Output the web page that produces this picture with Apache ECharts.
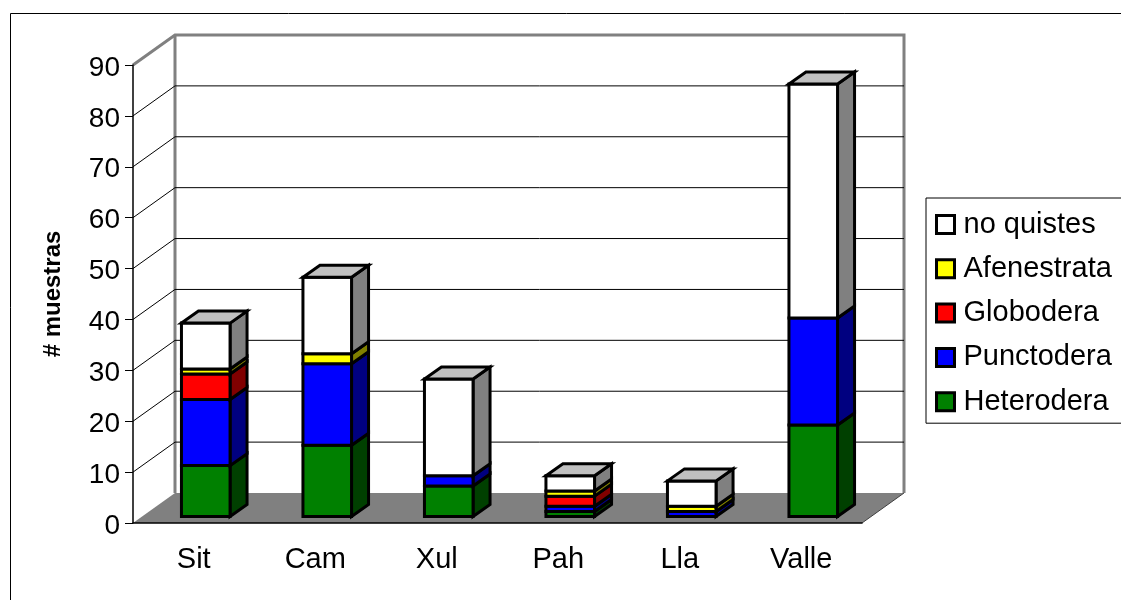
<!DOCTYPE html>
<html>
<head>
<meta charset="utf-8">
<style>
    html, body { margin: 0; padding: 0; background: #fff; }
    #chart { width: 1121px; height: 600px; }
</style>
<script src="https://cdn.jsdelivr.net/npm/echarts@6/dist/echarts.min.js"></script>
</head>
<body>
<div id="chart"></div>
<script>
var categories = ["Sit", "Cam", "Xul", "Pah", "Lla", "Valle"];
var heterodera = [10, 14, 6, 1, 0, 18];
var punctodera = [13, 16, 2, 1, 1, 21];
var globodera = [5, 0, 0, 2, 0, 0];
var afenestrata = [1, 2, 0, 1, 1, 0];
var noQuistes = [9, 15, 19, 3, 5, 46];
var gridValues = [10, 20, 30, 40, 50, 60, 70, 80];

var FONT = '"Liberation Sans", Arial, sans-serif';
// depth of the fake 3d box, and of a bar inside it
var WALL_DX = 42, WALL_DY = -30;
var BAR_DX = 17, BAR_DY = -12;
var BAR_SHIFT_X = 12, BAR_SHIFT_Y = -6.5;

var chart = echarts.init(document.getElementById("chart"));

function leftEdge(api, value) {
    var p = api.coord([0, value]);
    return [p[0] - api.size([1, 0])[0] / 2, p[1]];
}

function rightEdge(api, value) {
    var p = api.coord([categories.length - 1, value]);
    return [p[0] + api.size([1, 0])[0] / 2, p[1]];
}

function wallItem(params, api) {
    var a = leftEdge(api, 0), b = rightEdge(api, 0);
    var c = leftEdge(api, 90), d = rightEdge(api, 90);
    var gray = { stroke: "#808080", lineWidth: 3, fill: null };
    return {
        type: "group",
        children: [{
            type: "polygon",
            shape: { points: [a, [a[0] + WALL_DX, a[1] + WALL_DY], [b[0] + WALL_DX, b[1] + WALL_DY], b] },
            style: { fill: "#808080" }
        }, {
            type: "polyline",
            shape: { points: [
                c,
                [c[0] + WALL_DX, c[1] + WALL_DY],
                [d[0] + WALL_DX, d[1] + WALL_DY],
                [b[0] + WALL_DX, b[1] + WALL_DY]
            ] },
            style: gray
        }, {
            type: "line",
            shape: { x1: a[0] + WALL_DX, y1: a[1] + WALL_DY, x2: c[0] + WALL_DX, y2: c[1] + WALL_DY },
            style: gray
        }, {
            type: "line",
            shape: { x1: b[0], y1: b[1], x2: b[0] + WALL_DX, y2: b[1] + WALL_DY },
            style: { stroke: "#404040", lineWidth: 1 }
        }]
    };
}

function gridItem(params, api) {
    var v = api.value(1);
    var a = leftEdge(api, v), b = rightEdge(api, v);
    return {
        type: "polyline",
        shape: { points: [a, [a[0] + WALL_DX, a[1] + WALL_DY], [b[0] + WALL_DX, b[1] + WALL_DY]] },
        style: { stroke: "#000", lineWidth: 1, fill: null }
    };
}

function barSeries(name, values, below, front, side, hasTop) {
    return {
        type: "custom",
        name: name,
        z: 4,
        silent: true,
        data: categories.map(function(c, i) {
            return [i, below[i], below[i] + values[i]];
        }),
        itemStyle: { color: front },
        renderItem: function(params, api) {
            if (api.value(2) === api.value(1)) {
                return null;
            }
            var base = api.coord([api.value(0), api.value(1)]);
            var top = api.coord([api.value(0), api.value(2)]);
            var w = api.size([1, 0])[0] * 0.4;
            var x0 = base[0] + BAR_SHIFT_X - w / 2, x1 = x0 + w;
            var y0 = base[1] + BAR_SHIFT_Y, y1 = top[1] + BAR_SHIFT_Y;
            var edge = { stroke: "#000", lineWidth: 3, lineJoin: "miter" };
            var faces = [{
                type: "polygon",
                shape: { points: [[x1, y0], [x1 + BAR_DX, y0 + BAR_DY], [x1 + BAR_DX, y1 + BAR_DY], [x1, y1]] },
                style: Object.assign({ fill: side }, edge)
            }, {
                type: "rect",
                shape: { x: x0, y: y1, width: w, height: y0 - y1 },
                style: Object.assign({ fill: front }, edge)
            }];
            if (hasTop) {
                faces.push({
                    type: "polygon",
                    shape: { points: [[x0, y1], [x1, y1], [x1 + BAR_DX, y1 + BAR_DY], [x0 + BAR_DX, y1 + BAR_DY]] },
                    style: Object.assign({ fill: "#C0C0C0" }, edge)
                });
            }
            return { type: "group", children: faces };
        }
    };
}

// running totals, each layer starts where the one below it ended
function addUp(a, b) {
    return a.map(function(v, i) { return v + b[i]; });
}
var zeros = categories.map(function() { return 0; });
var below1 = addUp(zeros, heterodera);
var below2 = addUp(below1, punctodera);
var below3 = addUp(below2, globodera);
var below4 = addUp(below3, afenestrata);

var legendNames = ["no quistes", "Afenestrata", "Globodera", "Punctodera", "Heterodera"];
var legendColors = ["#FFFFFF", "#FFFF00", "#FF0000", "#0000FF", "#008000"];

chart.setOption({
    animation: false,
    backgroundColor: "#fff",
    textStyle: { fontFamily: FONT },
    grid: { left: 133, right: 259, top: 65, bottom: 77 },
    graphic: [{
        type: "rect",
        z: 0,
        silent: true,
        shape: { x: 10.5, y: 13.5, width: 1300, height: 800 },
        style: { fill: null, stroke: "#000", lineWidth: 1 }
    }],
    legend: {
        orient: "vertical",
        left: 926,
        top: 198,
        padding: [12, 40, 7, 9],
        selectedMode: false,
        borderColor: "#000",
        borderWidth: 1,
        backgroundColor: "#fff",
        itemWidth: 18,
        itemHeight: 18,
        itemGap: 15.3,
        textStyle: { fontSize: 29, color: "#000", fontFamily: FONT, padding: [0, 0, 0, 4] },
        data: legendNames.map(function(n, i) {
            return {
                name: n,
                icon: "rect",
                itemStyle: { color: legendColors[i], borderColor: "#000", borderWidth: 3 }
            };
        })
    },
    xAxis: {
        type: "category",
        data: categories,
        z: 5,
        axisLine: { lineStyle: { color: "#000", width: 1.5 } },
        axisTick: { alignWithLabel: false, length: 9, lineStyle: { color: "#000" } },
        axisLabel: { fontSize: 29, color: "#000", margin: 22, fontFamily: FONT },
        splitLine: { show: false }
    },
    yAxis: {
        type: "value",
        min: 0,
        max: 90,
        interval: 10,
        z: 5,
        name: "# muestras",
        nameLocation: "middle",
        nameGap: 68,
        nameTextStyle: { fontSize: 24, fontWeight: "bold", color: "#000", fontFamily: FONT },
        axisLine: { show: true, lineStyle: { color: "#000", width: 1.5 } },
        axisTick: { show: true, length: 8, lineStyle: { color: "#000" } },
        // short line box, top aligned, drops the digits onto their ticks
        axisLabel: { fontSize: 28, color: "#000", margin: 13, verticalAlign: "top", lineHeight: 6, fontFamily: FONT },
        splitLine: { show: false }
    },
    series: [
        { type: "custom", z: 1, silent: true, data: [[0, 0]], renderItem: wallItem },
        {
            type: "custom",
            z: 2,
            silent: true,
            data: gridValues.map(function(v) { return [0, v]; }),
            renderItem: gridItem
        },
        barSeries("Heterodera", heterodera, zeros, "#008000", "#004000", false),
        barSeries("Punctodera", punctodera, below1, "#0000FF", "#000080", false),
        barSeries("Globodera", globodera, below2, "#FF0000", "#800000", false),
        barSeries("Afenestrata", afenestrata, below3, "#FFFF00", "#808000", false),
        barSeries("no quistes", noQuistes, below4, "#FFFFFF", "#808080", true)
    ]
});
</script>
</body>
</html>
